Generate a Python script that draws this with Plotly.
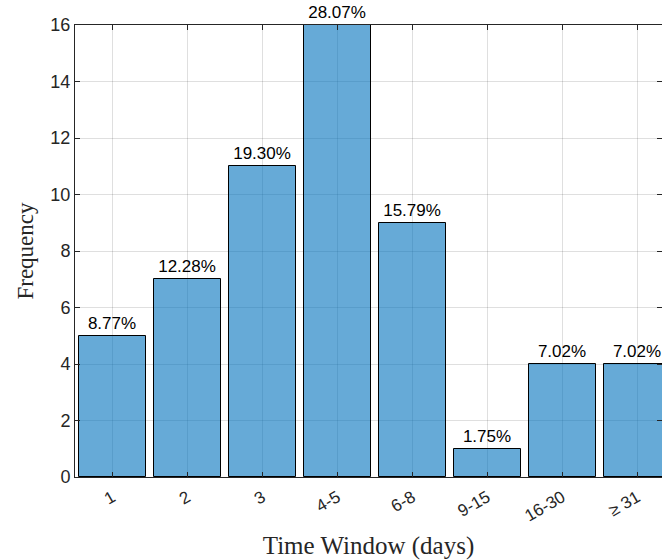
import plotly.graph_objects as go

categories = ["1", "2", "3", "4-5", "6-8", "9-15", "16-30", "≥ 31"]
counts = [5, 7, 11, 16, 9, 1, 4, 4]
y_ticks = [0, 2, 4, 6, 8, 10, 12, 14, 16]

total = sum(counts)
pct_labels = [f"{c / total * 100:.2f}%" for c in counts]
xpos = list(range(1, len(categories) + 1))

fig = go.Figure()
fig.add_trace(go.Bar(
    x=xpos, y=counts, width=0.9,
    marker=dict(color="rgba(0,114,189,0.6)", line=dict(color="#000000", width=1)),
    text=pct_labels, textposition="outside", cliponaxis=False,
    textfont=dict(family="Liberation Sans, Arial", size=17, color="#000000"),
))

axis_common = dict(
    showline=True, linecolor="#262626", linewidth=1, mirror="ticks",
    ticks="inside", ticklen=5, tickcolor="#262626",
    showgrid=True, gridcolor="rgba(38,38,38,0.15)", gridwidth=1,
    zeroline=False, automargin=False,
)

fig.update_xaxes(
    **axis_common,
    tickfont=dict(family="Liberation Sans, Arial", size=17, color="#262626"),
    range=[0.5, 8.33], tickvals=xpos, ticktext=categories, tickangle=-30,
    ticklabelstandoff=3,
    title=dict(text="Time Window (days)", font=dict(family="Liberation Serif, serif", size=25, color="#262626"), standoff=12),
)
fig.update_yaxes(
    **axis_common,
    tickfont=dict(family="Liberation Sans, Arial", size=18, color="#262626"),
    range=[0, 16], tickvals=y_ticks,
    title=dict(text="Frequency", font=dict(family="Liberation Serif, serif", size=23, color="#262626"), standoff=10),
)

fig.update_layout(
    width=662, height=560,
    margin=dict(l=75, r=0, t=25, b=83, autoexpand=False),
    plot_bgcolor="white", paper_bgcolor="white",
    showlegend=False, bargap=0,
)

fig.write_html(
    "out.html",
    config={"displayModeBar": False},
    post_script="document.body.style.margin='0';document.body.style.overflow='hidden';",
)
